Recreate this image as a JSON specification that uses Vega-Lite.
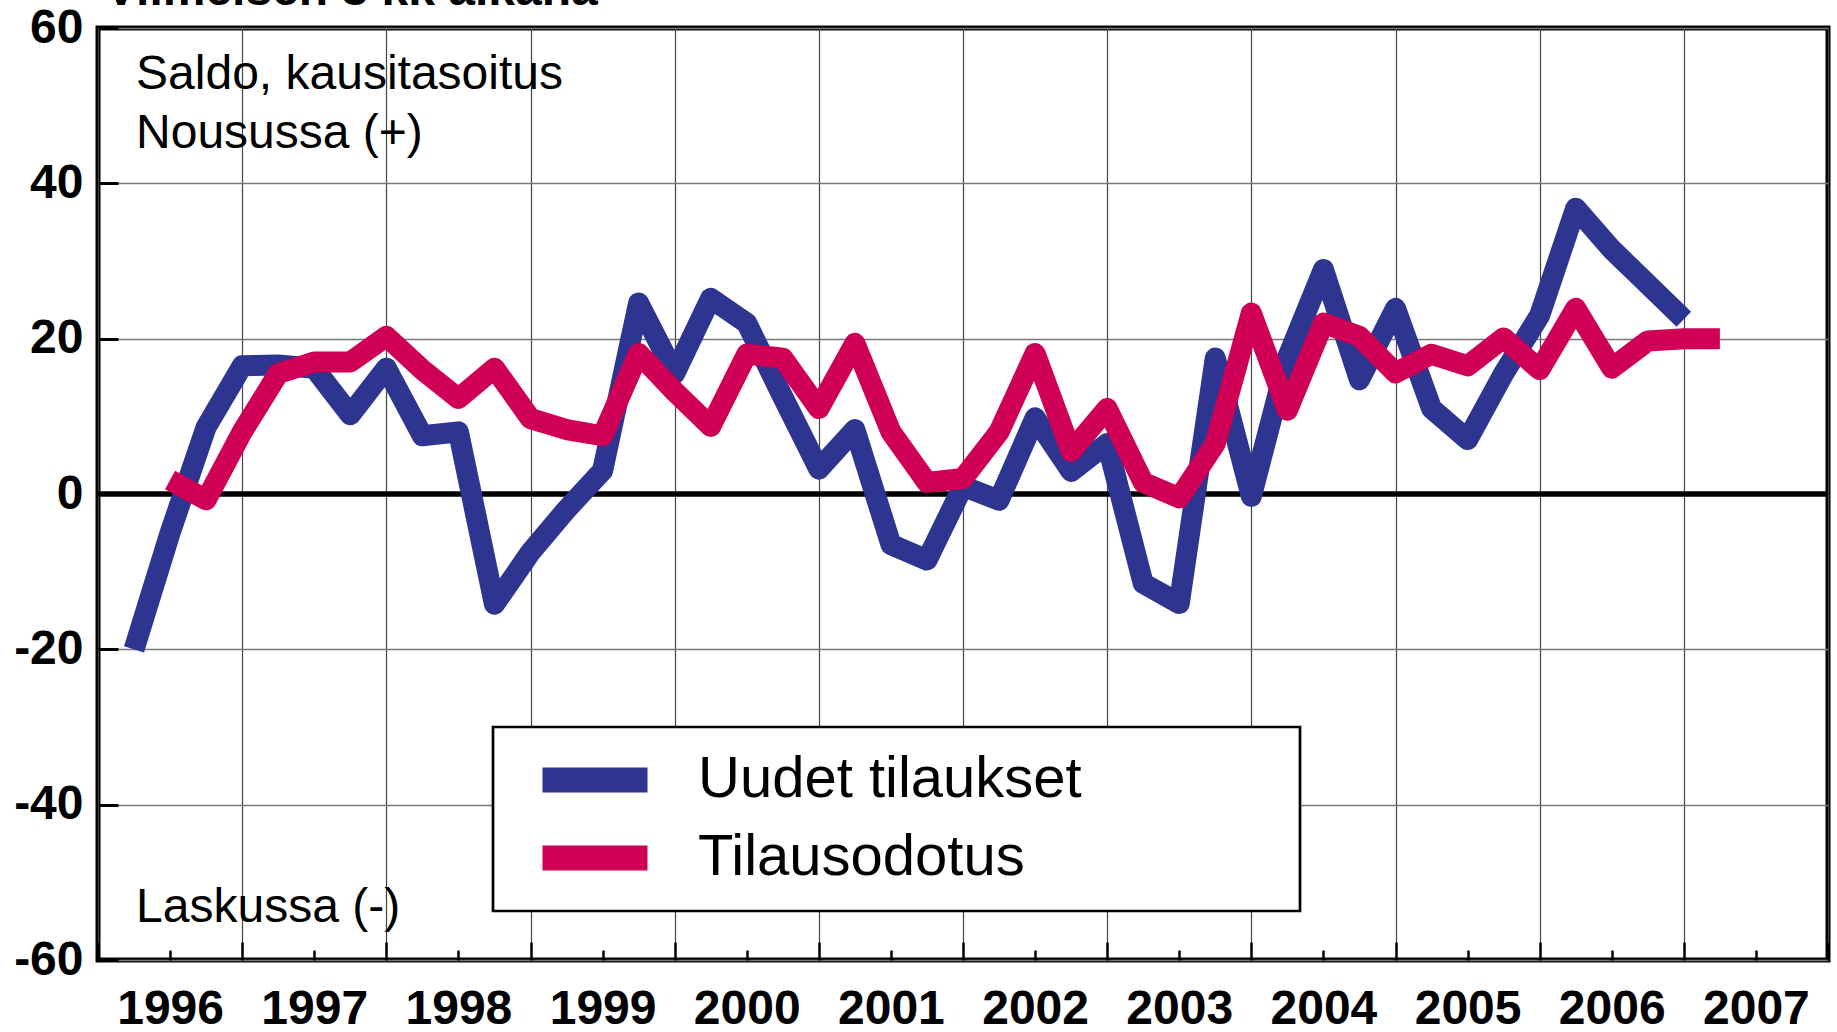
{
  "$schema": "https://vega.github.io/schema/vega-lite/v6.json",
  "autosize": "none",
  "width": 1730,
  "height": 932,
  "padding": {"left": 98, "top": 28, "right": 9, "bottom": 72},
  "background": "white",
  "config": {
    "font": "Liberation Sans",
    "view": {"stroke": "black", "strokeWidth": 5}
  },
  "layer": [
    {
      "data": {"values": [{}]},
      "mark": {"type": "rule", "color": "black", "strokeWidth": 5.5},
      "encoding": {"y": {"datum": 0, "type": "quantitative"}}
    },
    {
      "data": {
        "values": [
          {"t": 1996.25, "v": -20, "s": "Uudet tilaukset"},
          {"t": 1996.5, "v": -5, "s": "Uudet tilaukset"},
          {"t": 1996.75, "v": 8.6, "s": "Uudet tilaukset"},
          {"t": 1997.0, "v": 16.5, "s": "Uudet tilaukset"},
          {"t": 1997.25, "v": 16.6, "s": "Uudet tilaukset"},
          {"t": 1997.5, "v": 16.2, "s": "Uudet tilaukset"},
          {"t": 1997.75, "v": 10.2, "s": "Uudet tilaukset"},
          {"t": 1998.0, "v": 16.2, "s": "Uudet tilaukset"},
          {"t": 1998.25, "v": 7.5, "s": "Uudet tilaukset"},
          {"t": 1998.5, "v": 8, "s": "Uudet tilaukset"},
          {"t": 1998.75, "v": -14.2, "s": "Uudet tilaukset"},
          {"t": 1999.0, "v": -7.5, "s": "Uudet tilaukset"},
          {"t": 1999.25, "v": -2, "s": "Uudet tilaukset"},
          {"t": 1999.5, "v": 3, "s": "Uudet tilaukset"},
          {"t": 1999.75, "v": 24.6, "s": "Uudet tilaukset"},
          {"t": 2000.0, "v": 15.5, "s": "Uudet tilaukset"},
          {"t": 2000.25, "v": 25.2, "s": "Uudet tilaukset"},
          {"t": 2000.5, "v": 22, "s": "Uudet tilaukset"},
          {"t": 2000.75, "v": 12.5, "s": "Uudet tilaukset"},
          {"t": 2001.0, "v": 3.2, "s": "Uudet tilaukset"},
          {"t": 2001.25, "v": 8.3, "s": "Uudet tilaukset"},
          {"t": 2001.5, "v": -6.5, "s": "Uudet tilaukset"},
          {"t": 2001.75, "v": -8.5, "s": "Uudet tilaukset"},
          {"t": 2002.0, "v": 1, "s": "Uudet tilaukset"},
          {"t": 2002.25, "v": -0.8, "s": "Uudet tilaukset"},
          {"t": 2002.5, "v": 9.8, "s": "Uudet tilaukset"},
          {"t": 2002.75, "v": 2.9, "s": "Uudet tilaukset"},
          {"t": 2003.0, "v": 6.5, "s": "Uudet tilaukset"},
          {"t": 2003.25, "v": -11.5, "s": "Uudet tilaukset"},
          {"t": 2003.5, "v": -14.1, "s": "Uudet tilaukset"},
          {"t": 2003.75, "v": 17.5, "s": "Uudet tilaukset"},
          {"t": 2004.0, "v": -0.3, "s": "Uudet tilaukset"},
          {"t": 2004.25, "v": 17.5, "s": "Uudet tilaukset"},
          {"t": 2004.5, "v": 28.9, "s": "Uudet tilaukset"},
          {"t": 2004.75, "v": 14.7, "s": "Uudet tilaukset"},
          {"t": 2005.0, "v": 23.9, "s": "Uudet tilaukset"},
          {"t": 2005.25, "v": 11, "s": "Uudet tilaukset"},
          {"t": 2005.5, "v": 7, "s": "Uudet tilaukset"},
          {"t": 2005.75, "v": 15.5, "s": "Uudet tilaukset"},
          {"t": 2006.0, "v": 23, "s": "Uudet tilaukset"},
          {"t": 2006.25, "v": 36.8, "s": "Uudet tilaukset"},
          {"t": 2006.5, "v": 31.5, "s": "Uudet tilaukset"},
          {"t": 2006.75, "v": 27, "s": "Uudet tilaukset"},
          {"t": 2007.0, "v": 22.5, "s": "Uudet tilaukset"},
          {"t": 1996.5, "v": 1.8, "s": "Tilausodotus"},
          {"t": 1996.75, "v": -0.75, "s": "Tilausodotus"},
          {"t": 1997.0, "v": 8, "s": "Tilausodotus"},
          {"t": 1997.25, "v": 15.5, "s": "Tilausodotus"},
          {"t": 1997.5, "v": 17, "s": "Tilausodotus"},
          {"t": 1997.75, "v": 17, "s": "Tilausodotus"},
          {"t": 1998.0, "v": 20.3, "s": "Tilausodotus"},
          {"t": 1998.25, "v": 16, "s": "Tilausodotus"},
          {"t": 1998.5, "v": 12.3, "s": "Tilausodotus"},
          {"t": 1998.75, "v": 16.2, "s": "Tilausodotus"},
          {"t": 1999.0, "v": 9.7, "s": "Tilausodotus"},
          {"t": 1999.25, "v": 8.3, "s": "Tilausodotus"},
          {"t": 1999.5, "v": 7.5, "s": "Tilausodotus"},
          {"t": 1999.75, "v": 18.1, "s": "Tilausodotus"},
          {"t": 2000.0, "v": 13.2, "s": "Tilausodotus"},
          {"t": 2000.25, "v": 8.7, "s": "Tilausodotus"},
          {"t": 2000.5, "v": 18, "s": "Tilausodotus"},
          {"t": 2000.75, "v": 17.5, "s": "Tilausodotus"},
          {"t": 2001.0, "v": 11, "s": "Tilausodotus"},
          {"t": 2001.25, "v": 19.4, "s": "Tilausodotus"},
          {"t": 2001.5, "v": 8, "s": "Tilausodotus"},
          {"t": 2001.75, "v": 1.5, "s": "Tilausodotus"},
          {"t": 2002.0, "v": 2, "s": "Tilausodotus"},
          {"t": 2002.25, "v": 8, "s": "Tilausodotus"},
          {"t": 2002.5, "v": 18.1, "s": "Tilausodotus"},
          {"t": 2002.75, "v": 5.5, "s": "Tilausodotus"},
          {"t": 2003.0, "v": 11, "s": "Tilausodotus"},
          {"t": 2003.25, "v": 1.5, "s": "Tilausodotus"},
          {"t": 2003.5, "v": -0.5, "s": "Tilausodotus"},
          {"t": 2003.75, "v": 6.5, "s": "Tilausodotus"},
          {"t": 2004.0, "v": 23.3, "s": "Tilausodotus"},
          {"t": 2004.25, "v": 10.8, "s": "Tilausodotus"},
          {"t": 2004.5, "v": 22, "s": "Tilausodotus"},
          {"t": 2004.75, "v": 20.3, "s": "Tilausodotus"},
          {"t": 2005.0, "v": 15.6, "s": "Tilausodotus"},
          {"t": 2005.25, "v": 18, "s": "Tilausodotus"},
          {"t": 2005.5, "v": 16.5, "s": "Tilausodotus"},
          {"t": 2005.75, "v": 20.1, "s": "Tilausodotus"},
          {"t": 2006.0, "v": 16, "s": "Tilausodotus"},
          {"t": 2006.25, "v": 23.9, "s": "Tilausodotus"},
          {"t": 2006.5, "v": 16.2, "s": "Tilausodotus"},
          {"t": 2006.75, "v": 19.7, "s": "Tilausodotus"},
          {"t": 2007.0, "v": 20, "s": "Tilausodotus"},
          {"t": 2007.25, "v": 20, "s": "Tilausodotus"}
        ]
      },
      "mark": {"type": "line", "strokeWidth": 21, "strokeJoin": "round", "strokeCap": "butt"},
      "encoding": {
        "x": {
          "field": "t", "type": "quantitative",
          "scale": {"domain": [1996, 2008], "nice": false, "zero": false},
          "axis": {
            "title": null,
            "domain": false,
            "values": [1996, 1996.25, 1996.5, 1996.75, 1997, 1997.25, 1997.5, 1997.75, 1998, 1998.25, 1998.5, 1998.75, 1999, 1999.25, 1999.5, 1999.75, 2000, 2000.25, 2000.5, 2000.75, 2001, 2001.25, 2001.5, 2001.75, 2002, 2002.25, 2002.5, 2002.75, 2003, 2003.25, 2003.5, 2003.75, 2004, 2004.25, 2004.5, 2004.75, 2005, 2005.25, 2005.5, 2005.75, 2006, 2006.25, 2006.5, 2006.75, 2007, 2007.25, 2007.5, 2007.75, 2008],
            "labelExpr": "(datum.value % 1 === 0.5) ? '' + floor(datum.value) : ''",
            "labelFontSize": 48,
            "labelFontWeight": "bold",
            "labelColor": "black",
            "labelPadding": 35,
            "labelOverlap": false,
            "labelFlush": false,
            "tickColor": "black",
            "tickWidth": 2.5,
            "tickSize": {"condition": {"test": "datum.value % 1 === 0", "value": -18}, "value": -10},
            "grid": true,
            "gridColor": "#444444",
            "gridWidth": 1.2,
            "gridOpacity": {"condition": {"test": "datum.value % 1 === 0", "value": 1}, "value": 0}
          }
        },
        "y": {
          "field": "v", "type": "quantitative",
          "scale": {"domain": [-60, 60], "nice": false, "zero": false},
          "axis": {
            "title": null,
            "domain": false,
            "values": [-60, -40, -20, 0, 20, 40, 60],
            "labelExpr": "'' + datum.value",
            "labelFontSize": 48,
            "labelFontWeight": "bold",
            "labelColor": "black",
            "labelPadding": 35,
            "tickColor": "black",
            "tickWidth": 3,
            "tickSize": -20,
            "grid": true,
            "gridColor": "#777777",
            "gridWidth": 1.5
          }
        },
        "color": {
          "field": "s", "type": "nominal",
          "scale": {"domain": ["Uudet tilaukset", "Tilausodotus"], "range": ["#2e3591", "#cf0055"]},
          "legend": {
            "title": null,
            "orient": "none",
            "legendX": 395,
            "legendY": 699,
            "symbolType": "stroke",
            "symbolSize": 11025,
            "symbolStrokeWidth": 25,
            "symbolOffset": 13,
            "clipHeight": 58,
            "labelFontSize": 58,
            "labelColor": "black",
            "labelOffset": 38,
            "labelLimit": 1000,
            "labelExpr": "datum.label + '\u00a0\u00a0\u00a0\u00a0\u00a0\u00a0\u00a0\u00a0\u00a0\u00a0\u00a0\u00a0\u200b'",
            "rowPadding": 20,
            "padding": 24,
            "strokeColor": "black",
            "fillColor": "white",
            "encode": {"legend": {"update": {"strokeWidth": {"value": 2.7}}}}
          }
        },
        "order": {"field": "t"}
      }
    },
    {
      "data": {"values": [{}]},
      "mark": {"type": "text", "text": "Viimeisen 3 kk aikana", "fontSize": 48, "fontWeight": "bold", "align": "left", "baseline": "alphabetic", "color": "black"},
      "encoding": {"x": {"datum": 1996.048, "type": "quantitative"}, "y": {"datum": 63.0, "type": "quantitative"}}
    },
    {
      "data": {"values": [{}]},
      "mark": {"type": "text", "text": "Saldo, kausitasoitus", "fontSize": 48, "align": "left", "baseline": "alphabetic", "color": "black"},
      "encoding": {"x": {"datum": 1996.264, "type": "quantitative"}, "y": {"datum": 52.1, "type": "quantitative"}}
    },
    {
      "data": {"values": [{}]},
      "mark": {"type": "text", "text": "Nousussa (+)", "fontSize": 48, "align": "left", "baseline": "alphabetic", "color": "black"},
      "encoding": {"x": {"datum": 1996.264, "type": "quantitative"}, "y": {"datum": 44.6, "type": "quantitative"}}
    },
    {
      "data": {"values": [{}]},
      "mark": {"type": "text", "text": "Laskussa (-)", "fontSize": 48, "align": "left", "baseline": "alphabetic", "color": "black"},
      "encoding": {"x": {"datum": 1996.264, "type": "quantitative"}, "y": {"datum": -55.1, "type": "quantitative"}}
    }
  ]
}
